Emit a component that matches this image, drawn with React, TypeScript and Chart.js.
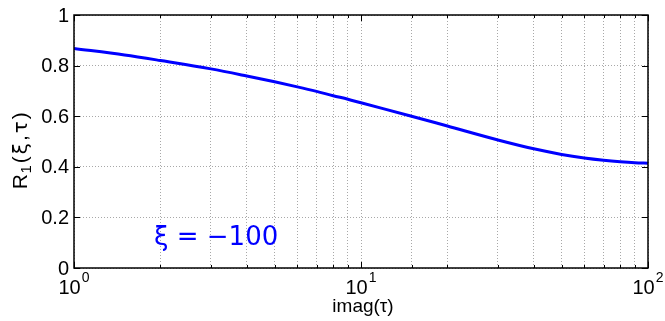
import React, { useEffect, useRef } from "react";
import { Chart, registerables } from "chart.js";

Chart.register(...registerables);

// ---- data ----
const xValues = [1, 1.5, 2, 3, 4, 5, 6, 7, 8, 9, 10, 15, 20, 30, 40, 50, 60, 70, 80, 90, 100];
const r1Values = [
  0.868, 0.842, 0.82, 0.787, 0.759, 0.736, 0.716, 0.698, 0.681, 0.667, 0.653,
  0.6, 0.561, 0.506, 0.471, 0.449, 0.435, 0.426, 0.42, 0.416, 0.414,
];
const xTickValues = [1, 10, 100];
const xTickBases = ["10", "10", "10"];
const xTickExponents = ["0", "1", "2"];
const yTickValues = [0, 0.2, 0.4, 0.6, 0.8, 1];
const yTickLabels = ["0", "0.2", "0.4", "0.6", "0.8", "1"];
const xAxisTitle = "imag(τ)";
const yTitleParts = ["R", "1", "(", "ξ", ",", "τ", ")"];
const annotationText = "ξ = −100";
const annotationX = 1.9;
const annotationY = 0.09;

const FONT = '"Liberation Sans", Arial, Helvetica, sans-serif';
const GREEK = '"DejaVu Sans", sans-serif';

const matlabAxes = {
  id: "matlabAxes",
  afterDraw(chart: any) {
    const { ctx, chartArea: a, scales } = chart;
    const xs = scales.x;
    const ys = scales.y;
    ctx.save();

    // box
    ctx.strokeStyle = "#000";
    ctx.lineWidth = 1.5;
    ctx.strokeRect(a.left, a.top, a.right - a.left, a.bottom - a.top);

    // inward ticks
    ctx.lineWidth = 1;
    const line = (x1: number, y1: number, x2: number, y2: number) => {
      ctx.beginPath();
      ctx.moveTo(x1, y1);
      ctx.lineTo(x2, y2);
      ctx.stroke();
    };
    xs.ticks.forEach((t: any) => {
      const px = Math.round(xs.getPixelForValue(t.value)) + 0.5;
      const lg = Math.log10(t.value);
      const major = Math.abs(lg - Math.round(lg)) < 1e-9;
      const len = major ? 6 : 3;
      line(px, a.bottom, px, a.bottom - len);
      line(px, a.top, px, a.top + len);
    });
    yTickValues.forEach((v) => {
      const py = Math.round(ys.getPixelForValue(v)) + 0.5;
      line(a.left, py, a.left + 6, py);
      line(a.right, py, a.right - 6, py);
    });

    // y tick labels
    ctx.fillStyle = "#000";
    ctx.font = `20px ${FONT}`;
    ctx.textAlign = "right";
    ctx.textBaseline = "middle";
    yTickValues.forEach((v, i) => {
      ctx.fillText(yTickLabels[i], a.left - 5, ys.getPixelForValue(v) + 1);
    });

    // x tick labels with superscript
    ctx.textAlign = "left";
    ctx.textBaseline = "alphabetic";
    xTickValues.forEach((v, i) => {
      const px = xs.getPixelForValue(v);
      ctx.font = `20px ${FONT}`;
      const w1 = ctx.measureText(xTickBases[i]).width;
      ctx.font = `14px ${FONT}`;
      const w2 = ctx.measureText(xTickExponents[i]).width;
      const start = px - (w1 + w2 + 1) / 2;
      ctx.font = `20px ${FONT}`;
      ctx.fillText(xTickBases[i], start, 294);
      ctx.font = `14px ${FONT}`;
      ctx.fillText(xTickExponents[i], start + w1 + 1, 282);
    });

    // x axis title
    ctx.font = `19px ${FONT}`;
    ctx.textAlign = "center";
    ctx.fillText(xAxisTitle, (a.left + a.right) / 2 + 2, 312);

    // y axis title (rotated, with subscript)
    ctx.save();
    const fonts = yTitleParts.map((p, i) =>
      i === 1 ? `15px ${FONT}` : p === "ξ" || p === "τ" ? `20px ${GREEK}` : `21px ${FONT}`
    );
    const widths = yTitleParts.map((p, i) => {
      ctx.font = fonts[i];
      return ctx.measureText(p).width;
    });
    const natural = widths.reduce((s, w) => s + w, 0);
    const gap = Math.min(2, Math.max(0, (82 - natural) / (yTitleParts.length - 1)));
    ctx.translate(27, 150);
    ctx.rotate(-Math.PI / 2);
    ctx.textAlign = "left";
    let cx = -(natural + gap * (yTitleParts.length - 1)) / 2;
    yTitleParts.forEach((p, i) => {
      ctx.font = fonts[i];
      ctx.fillText(p, cx, i === 1 ? 4 : 0);
      cx += widths[i] + (i === 0 ? 0.5 : gap);
    });
    ctx.restore();

    // annotation
    ctx.font = `26px ${GREEK}`;
    ctx.fillStyle = "#0000ff";
    ctx.textAlign = "left";
    ctx.textBaseline = "alphabetic";
    ctx.fillText(annotationText, xs.getPixelForValue(annotationX), ys.getPixelForValue(annotationY));

    ctx.restore();
  },
};

export default function App() {
  const ref = useRef<HTMLCanvasElement | null>(null);
  useEffect(() => {
    if (!ref.current) return;
    const chart = new Chart(ref.current, {
      type: "line",
      data: {
        datasets: [
          {
            data: xValues.map((x, i) => ({ x, y: r1Values[i] })),
            borderColor: "#0000ff",
            borderWidth: 3,
            pointRadius: 0,
            fill: false,
            cubicInterpolationMode: "monotone",
          },
        ],
      },
      options: {
        animation: false,
        responsive: false,
        maintainAspectRatio: false,
        layout: { padding: { left: 74, right: 17, top: 15, bottom: 53 } },
        plugins: { legend: { display: false }, tooltip: { enabled: false } },
        scales: {
          x: {
            type: "logarithmic",
            min: 1,
            max: 100,
            ticks: { display: false, autoSkip: false },
            grid: { color: "#a8a8a8", lineWidth: 1, drawTicks: false },
            border: { display: false, dash: [1, 2] },
          },
          y: {
            type: "linear",
            min: 0,
            max: 1,
            ticks: { display: false, stepSize: 0.2 },
            grid: { color: "#a8a8a8", lineWidth: 1, drawTicks: false },
            border: { display: false, dash: [1, 2] },
          },
        },
      },
      plugins: [matlabAxes],
    } as any);
    return () => chart.destroy();
  }, []);
  return (
    <canvas
      ref={ref}
      width={665}
      height={321}
      style={{ position: "fixed", left: 0, top: 0, width: 665, height: 321, background: "#fff" }}
    />
  );
}
